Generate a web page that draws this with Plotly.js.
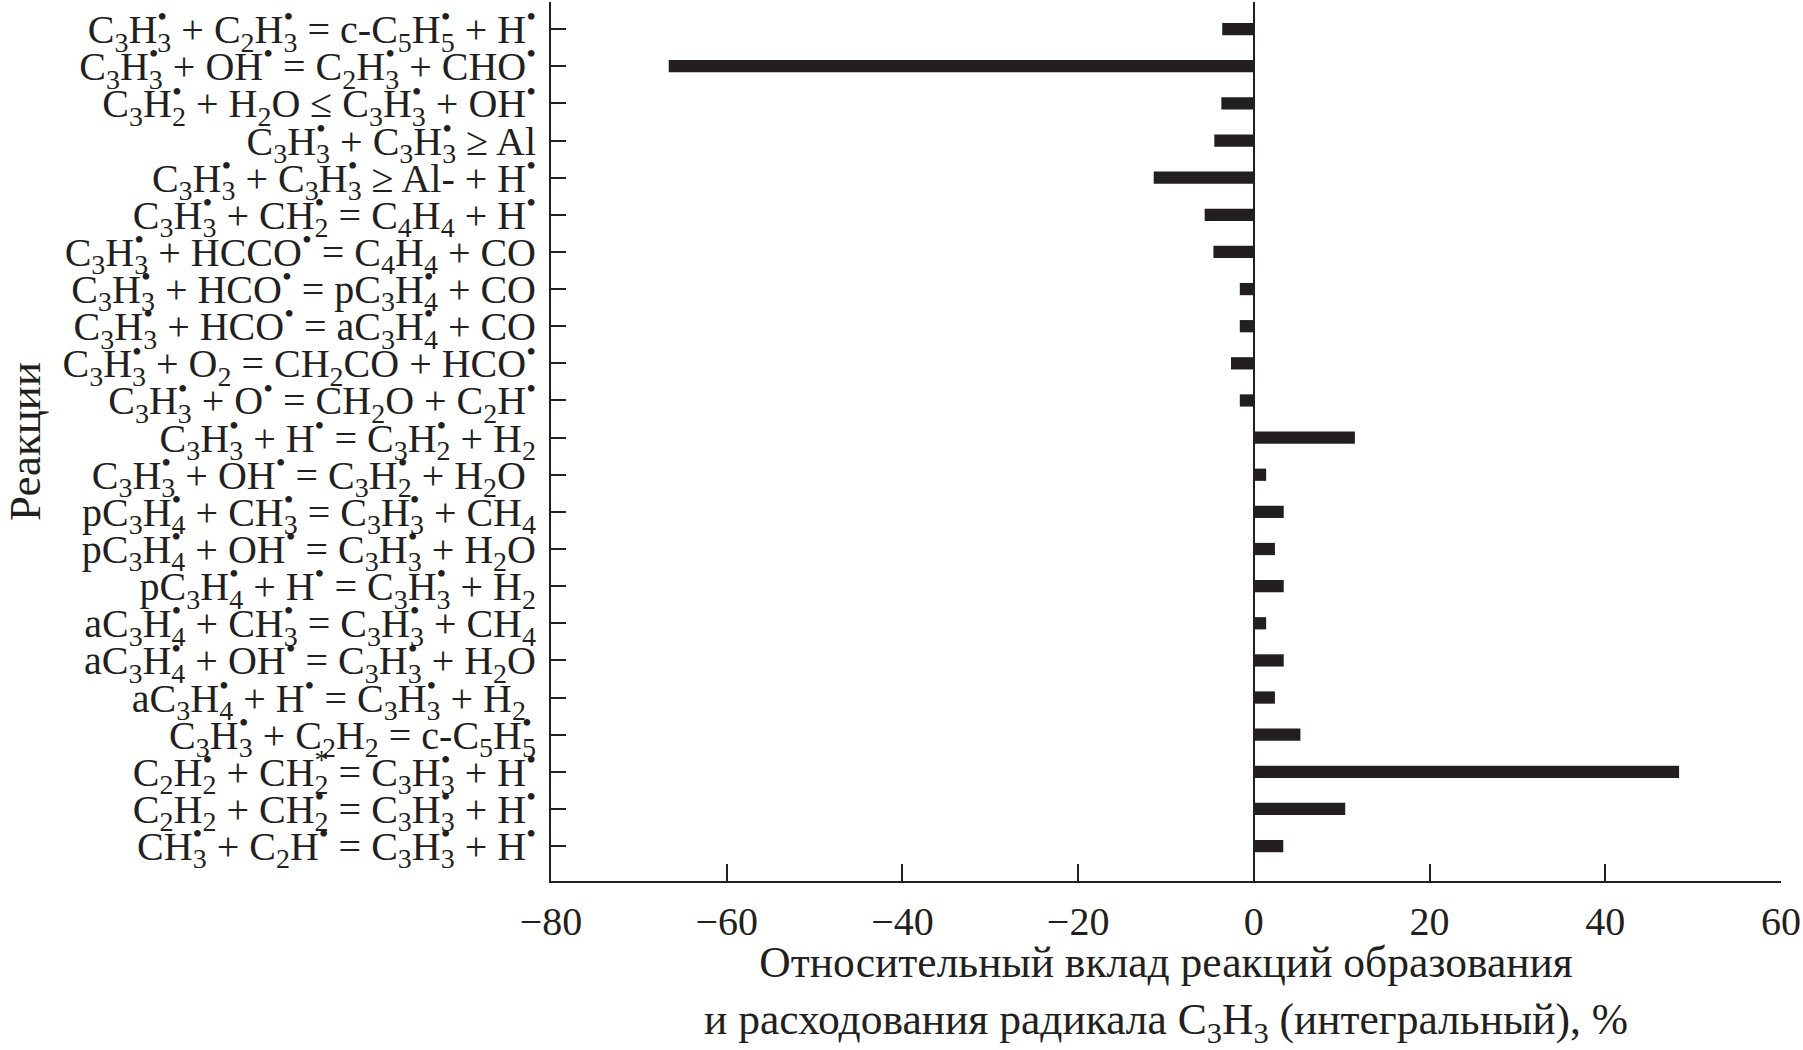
<!DOCTYPE html>
<html>
<head>
<meta charset="utf-8">
<script src="https://cdn.plot.ly/plotly-3.0.1.min.js"></script>
<style>
  html, body { margin: 0; padding: 0; background: #ffffff; }
  #chart { width: 1803px; height: 1050px; }
</style>
</head>
<body>
<div id="chart"></div>
<script>
// Reactions (top to bottom). Notation: _n = subscript n, ^• = radical dot, ^* = excited state
var reactions = [
  "C_3H_3^• + C_2H_3^• = c-C_5H_5^• + H^•",
  "C_3H_3^• + OH^• = C_2H_3^• + CHO^•",
  "C_3H_2^• + H_2O ≤ C_3H_3^• + OH^•",
  "C_3H_3^• + C_3H_3^• ≥ Al",
  "C_3H_3^• + C_3H_3^• ≥ Al- + H^•",
  "C_3H_3^• + CH_2^• = C_4H_4 + H^•",
  "C_3H_3^• + HCCO^• = C_4H_4 + CO",
  "C_3H_3^• + HCO^• = pC_3H_4^• + CO",
  "C_3H_3^• + HCO^• = aC_3H_4^• + CO",
  "C_3H_3^• + O_2 = CH_2CO + HCO^•",
  "C_3H_3^• + O^• = CH_2O + C_2H^•",
  "C_3H_3^• + H^• = C_3H_2^• + H_2",
  "C_3H_3^• + OH^• = C_3H_2^• + H_2O\u00A0",
  "pC_3H_4^• + CH_3^• = C_3H_3^• + CH_4",
  "pC_3H_4^• + OH^• = C_3H_3^• + H_2O",
  "pC_3H_4^• + H^• = C_3H_3^• + H_2",
  "aC_3H_4^• + CH_3^• = C_3H_3^• + CH_4",
  "aC_3H_4^• + OH^• = C_3H_3^• + H_2O",
  "aC_3H_4^• + H^• = C_3H_3^• + H_2\u00A0",
  "C_3H_3^• + C_2H_2 = c-C_5H_5^•",
  "C_2H_2^• + CH_2^* = C_3H_3^• + H^•",
  "C_2H_2 + CH_2^• = C_3H_3^• + H^•",
  "CH_3^• + C_2H^• = C_3H_3^• + H^•"
];

// Relative contribution, %
var contribution = [
  -3.6, -66.6, -3.7, -4.5, -11.4, -5.6, -4.6, -1.6, -1.6, -2.6, -1.6,
  11.5, 1.4, 3.4, 2.4, 3.4, 1.4, 3.4, 2.4, 5.3, 48.4, 10.4, 3.35
];

var xTickVals = [-80, -60, -40, -20, 0, 20, 40, 60];
var xTickText = ["\u221280", "\u221260", "\u221240", "\u221220", "0", "20", "40", "60"];

var xTitle = "Относительный вклад реакций образования<br>и расходования радикала C<sub>3</sub>H<sub>3</sub> (интегральный), %";
var yTitle = "Реакции";

// Convert the compact chemical notation into Plotly pseudo-HTML.
// A mark written after a subscript is stacked above it (zero advance).
function chem(s) {
  var adv = { "•": "0.35em", "*": "0.5em" };
  s = s.replace(/_(\d)\^([•*])/g, function (m, d, mark) {
    return '<sup style="letter-spacing:-' + adv[mark] + '">' + mark + '</sup><sub>' + d + '</sub>';
  });
  s = s.replace(/_(\d)/g, '<sub>$1</sub>');
  s = s.replace(/\^([•*])/g, '<sup>$1</sup>');
  return s;
}
var reactionLabels = reactions.map(chem);

var ink = "#231f20";
var fontFam = "Liberation Serif, Times New Roman, serif";

var trace = {
  type: "bar",
  orientation: "h",
  x: contribution,
  y: reactionLabels,
  width: 0.33,
  marker: { color: ink, line: { width: 0 } },
  hoverinfo: "skip"
};

var n = reactions.length;

var layout = {
  width: 1803,
  height: 1050,
  margin: { l: 551, r: 22, t: 2, b: 169, pad: 0 },
  paper_bgcolor: "#ffffff",
  plot_bgcolor: "#ffffff",
  showlegend: false,
  font: { family: fontFam, size: 40, color: ink },
  xaxis: {
    range: [-80, 60],
    tickmode: "array",
    tickvals: xTickVals,
    ticktext: xTickText,
    ticks: "inside",
    ticklen: 17,
    tickwidth: 2,
    tickcolor: ink,
    showline: true,
    linewidth: 2,
    linecolor: ink,
    showgrid: false,
    zeroline: true,
    zerolinecolor: ink,
    zerolinewidth: 2.5,
    tickfont: { family: fontFam, size: 40, color: ink },
    ticklabelstandoff: 4,
    title: { text: xTitle, font: { family: fontFam, size: 43.5, color: ink }, standoff: 5 },
    fixedrange: true
  },
  yaxis: {
    type: "category",
    range: [n - 1 + 0.94, -0.73],
    tickmode: "array",
    tickvals: reactionLabels,
    ticktext: reactionLabels,
    ticks: "inside",
    ticklen: 15,
    tickwidth: 2,
    tickcolor: ink,
    showline: true,
    linewidth: 2,
    linecolor: ink,
    showgrid: false,
    zeroline: false,
    tickfont: { family: fontFam, size: 40, color: ink },
    ticklabelstandoff: 5,
    title: { text: yTitle, font: { family: fontFam, size: 45, color: ink }, standoff: 16 },
    fixedrange: true
  },
  bargap: 0.67
};

Plotly.newPlot("chart", [trace], layout, { displayModeBar: false, staticPlot: true });
</script>
</body>
</html>
